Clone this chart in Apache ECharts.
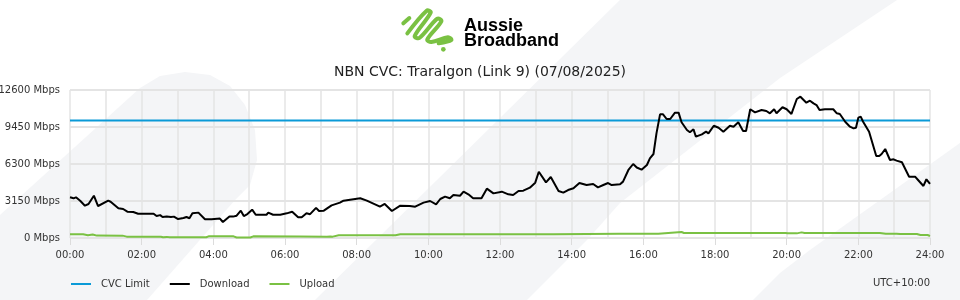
<!DOCTYPE html>
<html>
<head>
<meta charset="utf-8">
<script src="https://cdn.jsdelivr.net/npm/echarts@6/dist/echarts.min.js"></script>
<style>html,body{margin:0;padding:0;background:#fff}#c{width:960px;height:300px}</style>
</head>
<body>
<div id="c"></div>
<script>
const titleText = 'NBN CVC: Traralgon (Link 9) (07/08/2025)';
const seriesNames = ['CVC Limit', 'Download', 'Upload'];
const yTicks = [0, 3150, 6300, 9450, 12600];
const timezoneLabel = 'UTC+10:00';

// [minutes since 00:00, Mbps]
const cvcLimit = [[0, 10000], [1440, 10000]];

const download = [
  [0,3465],[6,3380],[10,3465],[17,3176],[25,2750],[31,2895],[40,3600],[47,2724],[50,2665],[64,3176],
  [68,3090],[81,2525],[89,2470],[96,2240],[106,2210],[114,2070],[140,2070],[145,1870],[151,1950],[155,1790],
  [162,1840],[169,1790],[174,1820],[181,1615],[190,1700],[195,1790],[200,1680],[205,2100],[215,2160],[226,1590],
  [237,1590],[240,1680],[251,1650],[256,1360],[267,1840],[273,1820],[279,1900],[286,2325],[291,1870],[297,2040],
  [305,2410],[311,1980],[329,1980],[332,2155],[340,1980],[352,1980],[363,2100],[372,2240],[382,1760],[388,1760],
  [396,2100],[402,2030],[412,2570],[417,2300],[425,2325],[438,2780],[452,3010],[458,3180],[469,3265],[486,3380],
  [497,3180],[519,2665],[527,2895],[539,2300],[553,2750],[569,2724],[578,2665],[592,3010],[603,3150],[613,2865],
  [620,3320],[628,3520],[636,3380],[642,3660],[653,3600],[659,3945],[667,3720],[675,3380],[689,3380],[698,4200],
  [709,3800],[723,3945],[734,3720],[742,3660],[751,4000],[759,4030],[770,4285],[779,4710],[785,5645],[797,4740],
  [805,5190],[818,4000],[826,3860],[834,4085],[843,4230],[853,4680],[865,4510],[876,4600],[884,4315],[893,4510],
  [901,4680],[907,4510],[921,4580],[926,4800],[935,5790],[943,6300],[949,6000],[957,5815],[966,6215],[971,6785],
  [977,7150],[982,8910],[988,10530],[993,10530],[999,10130],[1005,10130],[1013,10670],[1019,10670],[1024,9850],[1033,9195],
  [1038,9000],[1044,9250],[1048,8625],[1058,8820],[1065,9050],[1069,8910],[1078,9560],[1086,9390],[1094,9050],[1105,9560],
  [1111,9475],[1119,9850],[1127,9110],[1132,9110],[1139,10960],[1147,10700],[1158,10900],[1166,10810],[1172,10615],[1179,10960],
  [1183,10615],[1193,11130],[1200,10960],[1208,10560],[1217,11835],[1223,12030],[1233,11520],[1239,11690],[1245,11460],[1250,11320],
  [1255,10900],[1264,10960],[1278,10960],[1284,10615],[1289,10560],[1298,9900],[1306,9475],[1312,9335],[1316,9390],[1320,10245],
  [1324,10330],[1328,9900],[1338,9050],[1350,6980],[1355,6980],[1359,7150],[1365,7575],[1373,6640],[1379,6700],[1384,6585],
  [1393,6445],[1396,6445],[1405,5220],[1415,5220],[1420,4940],[1429,4430],[1434,5000],[1440,4600]
];

const upload = [
  [0,315],[22,315],[30,240],[38,300],[45,205],[88,200],[95,115],[104,115],[107,170],[111,115],
  [152,110],[156,60],[162,95],[167,60],[228,60],[232,140],[274,140],[279,45],[302,45],[307,140],
  [384,130],[430,115],[436,120],[440,115],[450,230],[545,230],[553,315],[640,315],[642,350],[645,315],
  [737,315],[739,350],[742,315],[782,315],[784,350],[787,315],[804,315],[806,350],[809,315],[920,370],
  [985,370],[988,510],[1024,510],[1028,425],[1106,425],[1108,380],[1110,425],[1198,425],[1202,395],[1217,395],
  [1225,480],[1230,425],[1350,425],[1352,500],[1356,425],[1366,370],[1384,370],[1390,345],[1418,345],[1424,255],
  [1436,255],[1440,170]
];

const FONT = 'DejaVu Sans';
const BG = '#f4f5f7';
const GREEN = '#7ac143';

function hhmm(m) {
  const h = Math.floor(m / 60);
  return (h < 10 ? '0' : '') + h + ':00';
}

const chart = echarts.init(document.getElementById('c'), null, { renderer: 'canvas' });
chart.setOption({
  animation: false,
  backgroundColor: '#ffffff',
  textStyle: { fontFamily: FONT },
  title: {
    text: titleText,
    left: 'center',
    top: 60,
    textStyle: { fontFamily: FONT, fontSize: 14, fontWeight: 'normal', color: '#222' }
  },
  graphic: [
    { type: 'polygon', z: -10, silent: true,
      shape: { points: [[620,0],[897,0],[780,78],[620,203],[587,240],[527,300],[315,300]] },
      style: { fill: BG } },
    { type: 'polygon', z: -10, silent: true,
      shape: { points: [[753,300],[780,273],[810,250],[960,143],[960,300]] },
      style: { fill: BG } },
    { type: 'polygon', z: -10, silent: true,
      shape: { points: [[0,215],[140,88],[160,76],[185,72],[210,75],[230,86],[245,105],[255,130],[257,160],[250,185],[235,200],[147,300],[0,300]] },
      style: { fill: BG } },
    { type: 'group', x: 396, y: 6, scaleX: 1/3, scaleY: 1/3, children: [
      { type: 'polyline', shape: { smooth: 0.35, points: [[34,82],[92,14],[104,20],[56,90],[70,96],[124,38],[136,46],[94,100],[106,108],[156,94],[166,102],[128,112]] },
        style: { stroke: GREEN, fill: null, lineWidth: 12, lineCap: 'round', lineJoin: 'round' } },
      { type: 'polyline', shape: { points: [[22,52],[40,36]] },
        style: { stroke: GREEN, fill: null, lineWidth: 12, lineCap: 'round' } },
      { type: 'circle', shape: { cx: 142, cy: 130, r: 7 }, style: { fill: GREEN } }
    ]},
    { type: 'text', x: 464, y: 26,
      style: { text: 'Aussie', font: 'bold 18px "Liberation Sans", Arial, sans-serif', fill: '#000', verticalAlign: 'middle' } },
    { type: 'text', x: 464, y: 41.5,
      style: { text: 'Broadband', font: 'bold 18px "Liberation Sans", Arial, sans-serif', fill: '#000', verticalAlign: 'middle' } },
    { type: 'text', right: 30, top: 278,
      style: { text: timezoneLabel, font: '10px "DejaVu Sans"', fill: '#333' } }
  ],
  legend: {
    data: seriesNames,
    left: 66,
    top: 274,
    icon: 'rect',
    itemWidth: 20,
    itemHeight: 2,
    itemGap: 20,
    textStyle: { fontFamily: FONT, fontSize: 10, color: '#333', padding: [0, 0, 0, 5] }
  },
  grid: { left: 70, right: 30, top: 90, bottom: 62, containLabel: false, outerBoundsMode: 'none' },
  xAxis: {
    type: 'value',
    min: 0,
    max: 1440,
    interval: 120,
    axisLine: { show: false },
    axisTick: { show: true, length: 7, lineStyle: { color: '#dcdcdc', width: 1 } },
    axisLabel: { formatter: hhmm, fontFamily: FONT, fontSize: 10, color: '#333', margin: 12 },
    splitLine: { show: true, lineStyle: { color: '#e4e4e4', width: 1.5 } },
    minorTick: { show: false, splitNumber: 2 },
    minorSplitLine: { show: true, lineStyle: { color: '#e4e4e4', width: 1.5 } }
  },
  yAxis: {
    type: 'value',
    min: 0,
    max: 12600,
    interval: 3150,
    axisLine: { show: false },
    axisTick: { show: false },
    axisLabel: { formatter: v => v + ' Mbps', fontFamily: FONT, fontSize: 10, color: '#333', margin: 10 },
    splitLine: { show: true, lineStyle: { color: '#e4e4e4', width: 2 } }
  },
  series: [
    { name: seriesNames[0], type: 'line', data: cvcLimit, showSymbol: false, symbol: 'none',
      lineStyle: { color: '#0a9ad7', width: 2 }, itemStyle: { color: '#0a9ad7' } },
    { name: seriesNames[1], type: 'line', data: download, showSymbol: false, symbol: 'none',
      lineStyle: { color: '#000000', width: 2 }, itemStyle: { color: '#000000' } },
    { name: seriesNames[2], type: 'line', data: upload, showSymbol: false, symbol: 'none',
      lineStyle: { color: GREEN, width: 2 }, itemStyle: { color: GREEN } }
  ]
});
</script>
</body>
</html>
